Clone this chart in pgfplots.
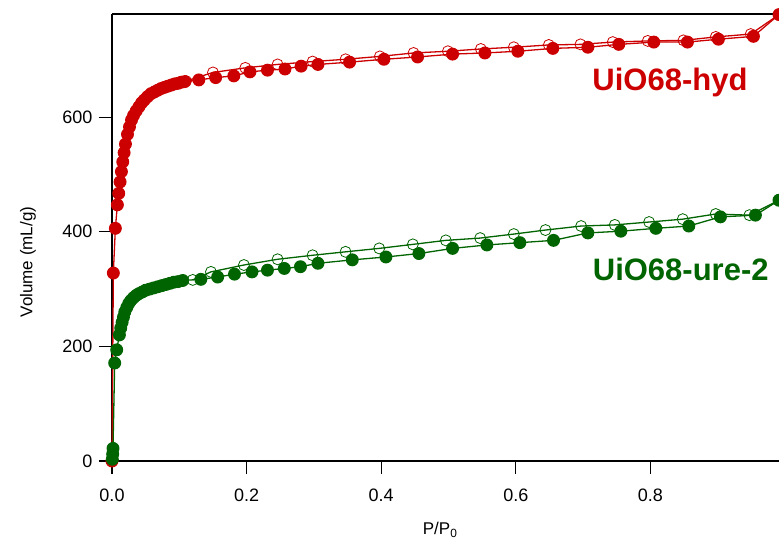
\documentclass[border=0pt]{standalone}
\usepackage{fontspec}
\setmainfont{Liberation Sans}
\usepackage{pgfplots}
\pgfplotsset{compat=1.18}
\definecolor{rd}{RGB}{204,0,0}
\definecolor{gn}{RGB}{0,100,0}

\pgfplotstableread{
x y
0.000 0
0.002 328
0.005 406
0.008 447
0.010 467
0.012 487
0.014 505
0.016 522
0.018 538
0.020 553
0.023 570
0.026 583
0.029 595
0.032 603
0.036 611
0.040 618
0.044 625
0.048 630
0.053 636
0.058 641
0.063 644
0.068 647
0.073 650
0.078 652
0.083 654
0.088 656
0.093 658
0.098 659
0.103 661
0.108 662
0.129 665
0.154 669
0.181 672
0.205 679
0.231 682
0.257 684
0.281 689
0.306 692
0.353 696
0.404 701
0.454 705
0.506 710
0.554 712
0.603 715
0.655 720
0.707 722
0.753 727
0.805 731
0.855 731
0.901 736
0.953 741
0.991 779
}\hydads

\pgfplotstableread{
x y
0.991 779
0.949 745
0.897 740
0.849 734
0.796 733
0.744 731
0.696 727
0.649 726
0.597 722
0.548 719
0.499 715
0.448 712
0.398 706
0.347 701
0.298 697
0.246 692
0.198 686
0.150 678
0.110 663
}\hyddes

\pgfplotstableread{
x y
0.0005 3
0.001 12
0.0015 22
0.004 171
0.007 194
0.011 220
0.013 232
0.015 242
0.017 251
0.019 260
0.022 268
0.025 275
0.028 280
0.032 285
0.036 289
0.040 292
0.045 295
0.050 298
0.056 300
0.062 302
0.068 304
0.074 306
0.080 308
0.086 310
0.092 312
0.098 313
0.105 315
0.132 317
0.157 321
0.182 326
0.208 330
0.231 333
0.256 336
0.280 339
0.306 345
0.357 351
0.407 356
0.456 362
0.506 371
0.557 377
0.606 381
0.656 385
0.707 398
0.756 401
0.808 406
0.857 410
0.904 426
0.956 429
0.991 455
}\ureads

\pgfplotstableread{
x y
0.991 455
0.947 429
0.897 431
0.848 422
0.798 417
0.747 412
0.697 410
0.644 403
0.597 396
0.547 389
0.496 385
0.447 378
0.397 371
0.347 365
0.298 359
0.246 352
0.196 342
0.147 330
0.120 316
}\uredes

\begin{document}
\begin{tikzpicture}[x=1pt,y=1pt]
\useasboundingbox (0,0) rectangle (779,539);
\begin{axis}[
  at={(112pt,78pt)}, anchor=south west, scale only axis,
  width=667pt, height=447pt,
  xmin=0, xmax=0.991, ymin=0, ymax=780,
  axis x line*=bottom, axis y line*=left,
  axis line style={-, line width=1.2pt},
  tick align=outside, major tick length=13pt,
  every tick/.style={black, line width=1.2pt},
  xtick={0,0.2,0.4,0.6,0.8}, ytick={0,200,400,600},
  xticklabel style={/pgf/number format/.cd, fixed, fixed zerofill, precision=1},
  /pgf/number format/assume math mode=true,
  tick label style={font=\fontsize{18}{20}\selectfont},
  xticklabel shift=11pt, yticklabel shift=3pt,
  clip=false,
]
\draw[line width=1.2pt] (rel axis cs:0,1) -- (rel axis cs:1,1);
\addplot[rd, line width=1.3pt, mark=o, mark size=5.5pt, mark options={line width=0.8pt}] table {\hyddes};
\addplot[rd, line width=1.3pt, mark=*, mark size=5.8pt, mark options={draw=rd, fill=rd}] table {\hydads};
\addplot[gn, line width=1.3pt, mark=o, mark size=5.5pt, mark options={line width=0.8pt}] table {\uredes};
\addplot[gn, line width=1.3pt, mark=*, mark size=5.8pt, mark options={draw=gn, fill=gn}] table {\ureads};
\node[rd, font=\fontsize{31}{34}\selectfont\bfseries] at (axis cs:0.829,661) {UiO68-hyd};
\node[gn, font=\fontsize{31}{34}\selectfont\bfseries] at (axis cs:0.845,335) {UiO68-ure-2};
\node[font=\fontsize{17}{20}\selectfont, rotate=90] at (rel axis cs:-0.126,0.445) {Volume (mL/g)};
\node[font=\fontsize{17}{20}\selectfont] at (rel axis cs:0.492,-0.154) {P/P\textsubscript{0}};
\end{axis}
\end{tikzpicture}
\end{document}
